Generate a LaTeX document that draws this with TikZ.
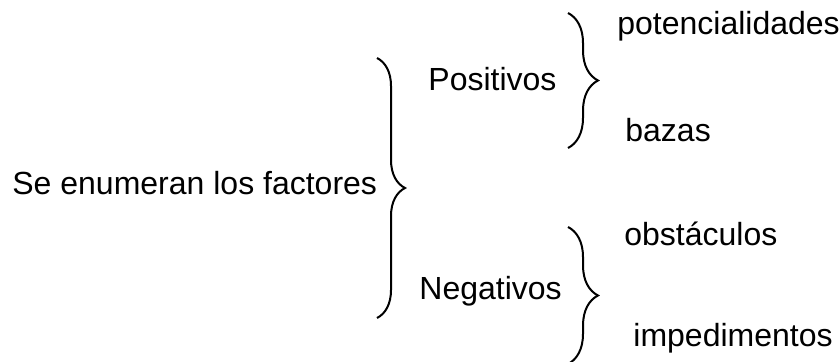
\documentclass[tikz,border=0pt]{standalone}
\usepackage{fontspec}
\setmainfont{Liberation Sans}
\usetikzlibrary{decorations.pathreplacing}

\begin{document}
\begin{tikzpicture}[x=0.5pt,y=-0.5pt,
	texto/.style={anchor=base west,inner sep=0pt,font=\fontsize{16}{19}\selectfont},
	llave/.style={decorate,decoration={brace,amplitude=#1},line width=1pt}]
	\useasboundingbox (0,0) rectangle (839,362);
	\node (SE)  at ( 12,195)	[texto]	{Se enumeran los factores};
	\node (POS) at (428, 91)	[texto]	{Positivos};
	\node (NEG) at (419,300)	[texto]	{Negativos};
	\node (P1)  at (617, 35)	[texto]	{potencialidades};
	\node (P2)  at (625,142)	[texto]	{bazas};
	\node (N1)  at (624,246)	[texto]	{obstáculos};
	\node (N2)  at (633,347)	[texto]	{impedimentos};
	\coordinate (A1) at (377, 58);
	\coordinate (A2) at (377,318);
	\coordinate (B1) at (568, 13);
	\coordinate (B2) at (568,148);
	\coordinate (C1) at (568,227);
	\coordinate (C2) at (568,364);
	\draw[llave=14pt] (A1) -- (A2);
	\draw[llave=15pt] (B1) -- (B2);
	\draw[llave=15pt] (C1) -- (C2);
\end{tikzpicture}
\end{document}
